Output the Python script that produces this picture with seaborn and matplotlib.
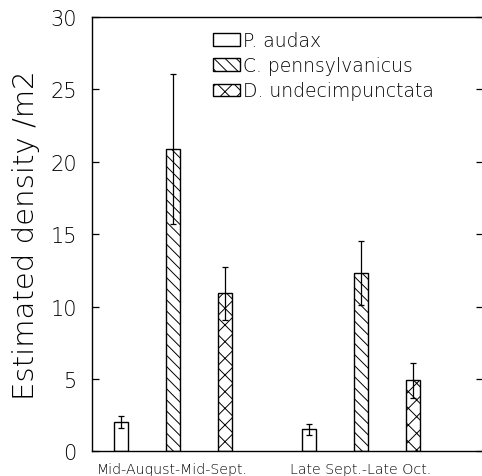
import matplotlib
matplotlib.use("Agg")
import matplotlib.pyplot as plt
import seaborn as sns
import pandas as pd

# === DATA ===
periods = ["Mid-August-Mid-Sept.", "Late Sept.-Late Oct."]
species = ["P. audax", "C. pennsylvanicus", "D. undecimpunctata"]

audax_mean = [2.0, 1.5]
audax_err = [0.4, 0.4]
penn_mean = [20.9, 12.3]
penn_err = [5.2, 2.2]
undec_mean = [10.9, 4.9]
undec_err = [1.8, 1.2]

y_ticks = [0, 5, 10, 15, 20, 25, 30]

means = [audax_mean, penn_mean, undec_mean]
errs = [audax_err, penn_err, undec_err]

df = pd.DataFrame({
    "period": periods * 3,
    "species": [s for s in species for _ in periods],
    "density": audax_mean + penn_mean + undec_mean,
})

# === PLOTTING ===
sns.set_style("ticks")
plt.rcParams["font.family"] = ["DejaVu Sans"]
plt.rcParams["font.weight"] = "light"
plt.rcParams["axes.labelweight"] = "light"
plt.rcParams["text.color"] = "black"
plt.rcParams["axes.labelcolor"] = "black"
plt.rcParams["xtick.color"] = "black"
plt.rcParams["ytick.color"] = "black"
plt.rcParams["hatch.linewidth"] = 0.7

fig, ax = plt.subplots(figsize=(4.82, 4.77), dpi=100)
fig.subplots_adjust(left=0.191, right=1.003, top=0.962, bottom=0.052)

sns.barplot(data=df, x="period", y="density", hue="species",
            order=periods, hue_order=species,
            palette=["white"] * 3, edgecolor="black", linewidth=1.0,
            width=0.83, gap=0.73, errorbar=None, legend=False, ax=ax)

hatches = ["", "\\\\\\", "xx"]
for cont, h, m, e in zip(ax.containers, hatches, means, errs):
    xs = []
    for bar in cont:
        bar.set_hatch(h)
        bar.set_facecolor("white")
        bar.set_edgecolor("black")
        xs.append(bar.get_x() + bar.get_width() / 2)
    ax.errorbar(xs, m, yerr=e, fmt="none", ecolor="black",
                elinewidth=0.9, capsize=2.5, capthick=0.9, zorder=5)

ax.set_xlim(-0.428, 1.652)
ax.set_ylim(0, 30)
ax.set_yticks(y_ticks)
ax.set_xlabel("")
ax.set_ylabel("Estimated density /m2", fontsize=21, labelpad=7,
              fontweight="light")

for s in ["left", "right", "top", "bottom"]:
    ax.spines[s].set_visible(True)
    ax.spines[s].set_linewidth(1.0)
    ax.spines[s].set_color("black")

ax.tick_params(axis="y", direction="in", length=5, width=0.9,
               labelsize=15, pad=11, right=True, left=True, labelright=False)
ax.tick_params(axis="x", length=0, labelsize=10.2, pad=8)

ax.legend(handles=ax.containers, labels=species, loc="upper left",
          bbox_to_anchor=(0.309, 0.968), frameon=False, fontsize=13.5,
          borderpad=0, borderaxespad=0, handlelength=1.45, handleheight=0.65,
          handletextpad=0.15, labelspacing=0.33)

plt.savefig("out.png", dpi=100)
print("Saved: out.png")
